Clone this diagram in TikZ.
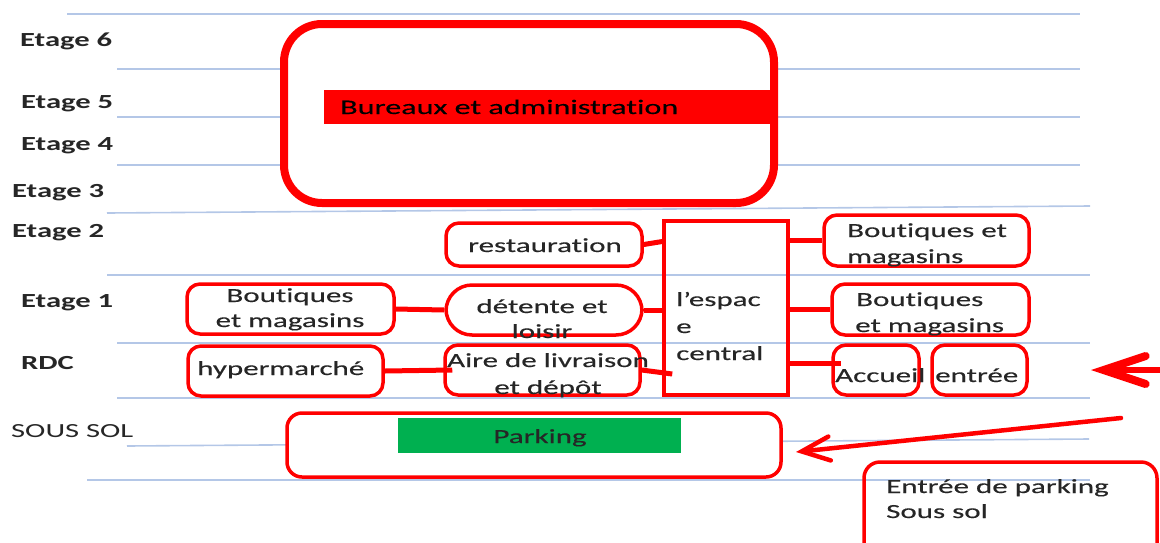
\documentclass[tikz,border=0pt]{standalone}
\usepackage{fontspec}
\newfontfamily\cf{Carlito}[FakeStretch=1.55, FakeBold=0.3, Ligatures=NoCommon]
\newfontfamily\cfl{Carlito}[FakeStretch=1.53, Ligatures=NoCommon]
\usetikzlibrary{arrows.meta,fit}
\definecolor{bred}{HTML}{FF0000}
\definecolor{gridc}{HTML}{B4C7E7}
\definecolor{pgreen}{HTML}{00B050}
\definecolor{ink}{HTML}{262626}
\begin{document}
\begin{tikzpicture}[x=1pt,y=-1pt,
  gridline/.style={draw=gridc, line width=1.6pt},
  rbox/.style={draw=bred, line width=3.5pt, rounded corners=13pt, inner sep=0pt},
  sbox/.style={draw=bred, line width=3.5pt, inner sep=0pt},
  link/.style={draw=bred, line width=5pt},
  txt/.style={font=\cf\fontsize{20}{26}\selectfont, text=ink, inner sep=0pt},
  floor/.style={font=\cfl\bfseries\fontsize{20}{24}\selectfont, text=ink, inner sep=0pt, anchor=base west},
  bigarrow/.style={draw=bred, line cap=round}
]
\useasboundingbox (0,0) rectangle (1160,542);
% floor lines
\draw[gridline] (67,14) -- (1080,14);
\draw[gridline] (117,69) -- (1080,69);
\draw[gridline] (117,117) -- (1080,117);
\draw[gridline] (117,165) -- (1080,165);
\draw[gridline] (107,213) -- (1090,206);
\draw[gridline] (107,275) -- (1090,275);
\draw[gridline] (117,343) -- (1090,343);
\draw[gridline] (117,398) -- (1090,398);
\draw[gridline] (127,446) -- (1089,439);
\draw[gridline] (87,480) -- (1090,480);
% floor labels
\node[floor] (f6) at (20,46) {Etage 6};
\node[floor] (f5) at (21,108) {Etage 5};
\node[floor] (f4) at (21,150) {Etage 4};
\node[floor] (f3) at (12,197) {Etage 3};
\node[floor] (f2) at (12,237) {Etage 2};
\node[floor] (f1) at (21,307) {Etage 1};
\node[floor] (frdc) at (21,369) {RDC};
\node[floor, font=\cfl\fontsize{20}{24}\selectfont] (fss) at (11,437) {SOUS SOL};
% offices
\node[rbox, fill=white, line width=8pt, rounded corners=38pt, fit={(284,24) (774,203)}] (bureaux) {};
\node[fill=bred, inner sep=0pt, fit={(324,90) (772,124)}] (bar) {};
\node[txt, text=black, anchor=base west, font=\cf\fontsize{20.7}{26}\selectfont] (tbureaux) at (340,114) {Bureaux et administration};
% boxes
\node[rbox, fit={(446,223) (642,266)}] (resto) {};
\node[rbox, rounded corners=26pt, fit={(446,285) (642,335)}] (detente) {};
\node[rbox, fit={(445,345) (640,395)}] (aire) {};
\node[sbox, fit={(664,221) (788,395)}] (espace) {};
\node[rbox, fit={(824,215) (1029,266)}] (rb2) {};
\node[rbox, fit={(832,284) (1029,335)}] (rb1) {};
\node[rbox, fit={(833,345) (919,395)}] (accueil) {};
\node[rbox, fit={(932,345) (1027,395)}] (entree) {};
\node[rbox, fit={(187,284) (394,334)}] (lb) {};
\node[rbox, fit={(188,346) (383,396)}] (hyper) {};
\node[rbox, fill=white, rounded corners=15pt, fit={(287,413) (781,477)}] (parking) {};
\node[fill=pgreen, inner sep=0pt, fit={(398,418) (681,453)}] (pbar) {};
\node[rbox, rounded corners=16pt, fit={(864,462) (1157,570)}] (pentree) {};
% texts (multi-line nodes: base = last line)
\node[txt, anchor=base west] (tresto) at (468,252) {restauration};
\node[txt, anchor=base, align=center, font=\cf\fontsize{20}{25}\selectfont] (tdetente) at (542,338) {détente et\\loisir};
\node[txt, anchor=base, align=center, font=\cf\fontsize{20}{27}\selectfont] (taire) at (548,394) {Aire de livraison\\et dépôt};
\node[txt, anchor=base west, align=left, font=\cf\fontsize{20}{27}\selectfont] (tespace) at (676,360) {l’espac\\e\\central};
\node[txt, anchor=base west, align=left] (trb2) at (847,263) {Boutiques et\\magasins};
\node[txt, anchor=base west, align=left] (trb1) at (855,332) {\hspace*{1pt}Boutiques\\et magasins};
\node[txt, anchor=base west] (taccueil) at (835,382) {Accueil};
\node[txt, anchor=base west] (tentree) at (935,382) {entrée};
\node[txt, anchor=base, align=center, font=\cf\fontsize{20}{25}\selectfont] (tlb) at (290,327) {Boutiques\\et magasins};
\node[txt, anchor=base west] (thyper) at (197,375) {hypermarché};
\node[txt, anchor=base] (tparking) at (540,443) {Parking};
\node[txt, anchor=base west, align=left, font=\cf\fontsize{20}{25}\selectfont] (tpentree) at (886,518) {Entrée de parking\\Sous sol};
% connectors
\draw[link] (lb.east) -- (detente.west);
\draw[link] (hyper.east) -- ([xshift=9pt]aire.west);
\draw[link] (resto.east) -- ([yshift=3pt]espace.west |- resto.east);
\draw[link] (detente.east) -- (espace.west |- detente.east);
\draw[link] (aire.east) -- ([xshift=10pt,yshift=-4pt]espace.west |- aire.east);
\draw[link] (espace.east |- rb2.west) -- (rb2.west);
\draw[link] (espace.east |- rb1.west) -- (rb1.west);
\draw[link] (espace.east |- 0,363) -- ([xshift=10pt]accueil.west |- 0,363);
% arrows
\coordinate (rdcTail) at (1163,370);
\coordinate (rdcTip) at (1091,370);
\draw[bigarrow, line width=6pt, -{Straight Barb[length=42pt, width=28pt, line cap=round, line width=8pt]}] (rdcTail) -- (rdcTip);
\coordinate (pTail) at (1121,418);
\coordinate (pTip) at (796,452);
\draw[bigarrow, line width=4.5pt, -{Straight Barb[length=28pt, width=24pt, line cap=round]}] (pTail) -- (pTip);
\end{tikzpicture}
\end{document}
